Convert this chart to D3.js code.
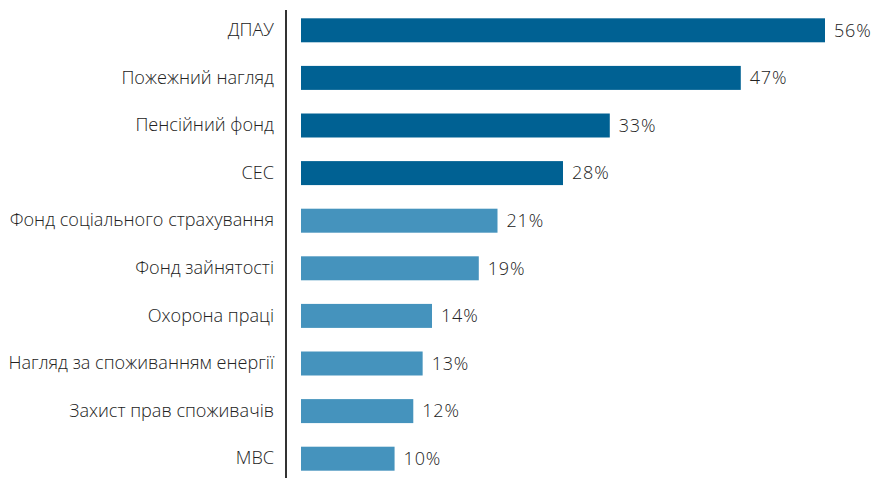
<!DOCTYPE html>
<html>
<head>
<meta charset="utf-8">
<script src="https://cdn.jsdelivr.net/npm/d3@7"></script>
<style>
  body { margin: 0; background: #fff; }
  text { font-family: "Open Sans", "Noto Sans", sans-serif; font-weight: 300; fill: #222; }
</style>
</head>
<body>
<div id="chart"></div>
<script>
// data
var categories = ["ДПАУ", "Пожежний нагляд", "Пенсійний фонд", "СЕС",
  "Фонд соціального страхування", "Фонд зайнятості", "Охорона праці",
  "Нагляд за споживанням енергії", "Захист прав споживачів", "МВС"];
var values = [56, 47, 33, 28, 21, 19, 14, 13, 12, 10];
var highlighted = [true, true, true, true, false, false, false, false, false, false];

var width = 875, height = 478;

var svg = d3.select("#chart").append("svg")
    .attr("width", width)
    .attr("height", height);

var x = d3.scaleLinear().domain([0, 56]).range([301, 825]);
var y = d3.scaleBand().domain(categories).range([6.5, 482.5]).paddingInner(0.496).paddingOuter(0.248);

var rows = categories.map(function (c, i) {
  return { name: c, value: values[i], dark: highlighted[i] };
});

// bars
svg.selectAll("rect.bar")
  .data(rows)
  .enter().append("rect")
  .attr("class", "bar")
  .attr("x", x(0))
  .attr("y", function (d) { return y(d.name); })
  .attr("width", function (d) { return x(d.value) - x(0); })
  .attr("height", y.bandwidth())
  .attr("fill", function (d) { return d.dark ? "#006193" : "#4593bd"; });

// value labels
svg.selectAll("text.val")
  .data(rows)
  .enter().append("text")
  .attr("class", "val")
  .attr("x", function (d) { return x(d.value) + 9; })
  .attr("y", function (d) { return y(d.name) + y.bandwidth() / 2; })
  .attr("dy", "0.35em")
  .style("font-size", "18px")
  .style("letter-spacing", "0.8px")
  .text(function (d) { return d.value + "%"; });

// category axis
var yAxis = d3.axisLeft(y).tickSize(0).tickPadding(12);
var g = svg.append("g")
  .attr("transform", "translate(286,0)")
  .call(yAxis);
g.select(".domain").remove();
g.selectAll("text").style("font-size", "18.1px").attr("fill", "#222");

svg.append("line")
  .attr("x1", 286).attr("x2", 286)
  .attr("y1", 10).attr("y2", height)
  .attr("stroke", "#333")
  .attr("stroke-width", 2);
</script>
</body>
</html>
